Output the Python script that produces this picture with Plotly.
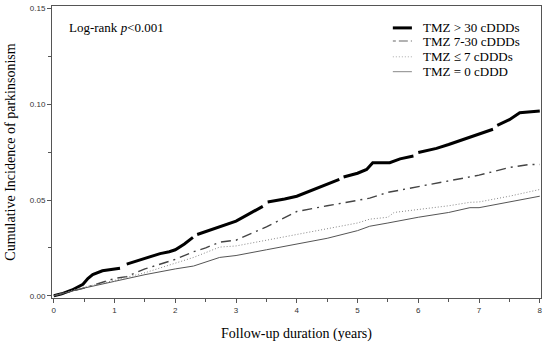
import plotly.graph_objects as go

# Follow-up time (years) and cumulative incidence
t_gt30 = [0, 0.13, 0.3, 0.48, 0.56, 0.64, 0.8, 0.95, 1.09, None,
          1.2, 1.4, 1.58, 1.75, 1.9, 2.0, 2.15, 2.29, None,
          2.36, 2.55, 2.73, 2.9, 3.0, 3.2, 3.44, None,
          3.52, 3.8, 4.0, 4.2, 4.45, 4.7, None,
          4.77, 5.0, 5.15, 5.25, 5.53, 5.7, 5.92, None,
          6.0, 6.3, 6.5, 6.73, 7.0, 7.23, None,
          7.3, 7.5, 7.67, 7.85, 8.0]
v_gt30 = [0, 0.001, 0.003, 0.006, 0.009, 0.011, 0.013, 0.0138, 0.0144, None,
          0.0165, 0.0185, 0.0207, 0.022, 0.023, 0.024, 0.027, 0.0305, None,
          0.032, 0.034, 0.036, 0.038, 0.039, 0.0425, 0.0467, None,
          0.049, 0.0505, 0.052, 0.0545, 0.058, 0.0608, None,
          0.062, 0.064, 0.066, 0.0695, 0.0695, 0.0715, 0.073, None,
          0.0748, 0.077, 0.079, 0.0816, 0.0845, 0.087, None,
          0.089, 0.092, 0.0956, 0.0962, 0.0965]

t_7_30 = [0, 0.5, 1.0, 1.2, 1.5, 2.0, 2.3, 2.5, 2.73, 3.0, 3.5, 4.0, 4.5, 5.0, 5.2, 5.5, 6.0, 6.5, 6.85, 7.0, 7.5, 7.84, 8.0]
v_7_30 = [0, 0.004, 0.009, 0.010, 0.014, 0.019, 0.023, 0.025, 0.028, 0.029, 0.036, 0.044, 0.047, 0.050, 0.051, 0.054, 0.057, 0.060, 0.062, 0.063, 0.067, 0.0686, 0.0686]

t_le7 = [0, 0.5, 1.0, 1.5, 2.0, 2.3, 2.73, 3.0, 3.5, 4.0, 4.5, 5.0, 5.2, 5.5, 5.6, 6.0, 6.5, 6.85, 7.0, 7.5, 8.0]
v_le7 = [0, 0.0045, 0.008, 0.012, 0.017, 0.020, 0.0254, 0.026, 0.029, 0.032, 0.035, 0.038, 0.040, 0.041, 0.0435, 0.045, 0.047, 0.0488, 0.049, 0.052, 0.0555]

t_0 = [0, 0.5, 1.0, 1.5, 2.0, 2.3, 2.73, 3.0, 3.5, 4.0, 4.5, 5.0, 5.2, 5.5, 6.0, 6.5, 6.85, 7.0, 7.5, 8.0]
v_0 = [0, 0.004, 0.0075, 0.011, 0.014, 0.0155, 0.020, 0.021, 0.024, 0.027, 0.030, 0.034, 0.0363, 0.038, 0.041, 0.0435, 0.046, 0.046, 0.049, 0.052]

names = ["TMZ > 30 cDDDs", "TMZ 7-30 cDDDs", "TMZ ≤ 7 cDDDs", "TMZ = 0 cDDD"]

styles = [
    dict(color="black", width=3),
    dict(color="#444444", width=1.4, dash="10px,5px,2px,5px"),
    dict(color="#888888", width=1, dash="1px,2px"),
    dict(color="#555555", width=1),
]
legend_styles = [
    dict(color="black", width=3),
    dict(color="#999999", width=1.4, dash="3px,3px,9px,3px"),
    dict(color="#aaaaaa", width=1, dash="1px,2px"),
    dict(color="#888888", width=1),
]

fig = go.Figure()
for (tx, vy), nm, st in zip([(t_gt30, v_gt30), (t_7_30, v_7_30), (t_le7, v_le7), (t_0, v_0)], names, styles):
    fig.add_trace(go.Scatter(x=tx, y=vy, mode="lines", name=nm, line=st,
                             connectgaps=False, showlegend=False, hoverinfo="skip"))

axis_common = dict(showline=True, linecolor="#555555", linewidth=1, mirror=True,
                   ticks="outside", ticklen=4, tickcolor="#555555", showgrid=False,
                   zeroline=False, automargin=False,
                   tickfont=dict(family="Liberation Sans", size=8, color="#333333"),
                   title_font=dict(family="Liberation Serif", size=14, color="black"))

fig.update_xaxes(range=[-0.03, 8.02], tickmode="linear", tick0=0, dtick=1,
                 minor=dict(ticks="outside", ticklen=3, dtick=0.5, tick0=0, tickcolor="#555555"),
                 title_text="Follow-up duration (years)", title_standoff=14, **axis_common)
fig.update_yaxes(range=[-0.0012, 0.1514], tickmode="linear", tick0=0, dtick=0.05,
                 tickformat=".2f",
                 minor=dict(ticks="outside", ticklen=3, dtick=0.025, tick0=0, tickcolor="#555555"),
                 title_text="Cumulative Incidence of parkinsonism", title_standoff=10, **axis_common)

fig.add_annotation(text="Log-rank <i>p</i><0.001", xref="paper", yref="paper",
                   x=0.03, y=0.928, xanchor="left", yanchor="middle", showarrow=False,
                   font=dict(family="Liberation Serif", size=13, color="black"))

# manual legend
row_y = [0.925, 0.88, 0.826, 0.775]
for nm, st, ry in zip(names, legend_styles, row_y):
    fig.add_shape(type="line", xref="paper", yref="paper", x0=0.697, x1=0.736, y0=ry, y1=ry,
                  line=st)
    fig.add_annotation(text=nm, xref="paper", yref="paper", x=0.755, y=ry,
                       xanchor="left", yanchor="middle", showarrow=False,
                       font=dict(family="Liberation Serif", size=13, color="black"))

fig.update_layout(width=550, height=346,
                  margin=dict(l=52, r=9, t=6, b=48),
                  plot_bgcolor="white", paper_bgcolor="white",
                  showlegend=False)

fig.write_html("out.html", config={"displayModeBar": False},
               post_script="document.body.style.margin='0px';document.body.style.padding='0px';")
